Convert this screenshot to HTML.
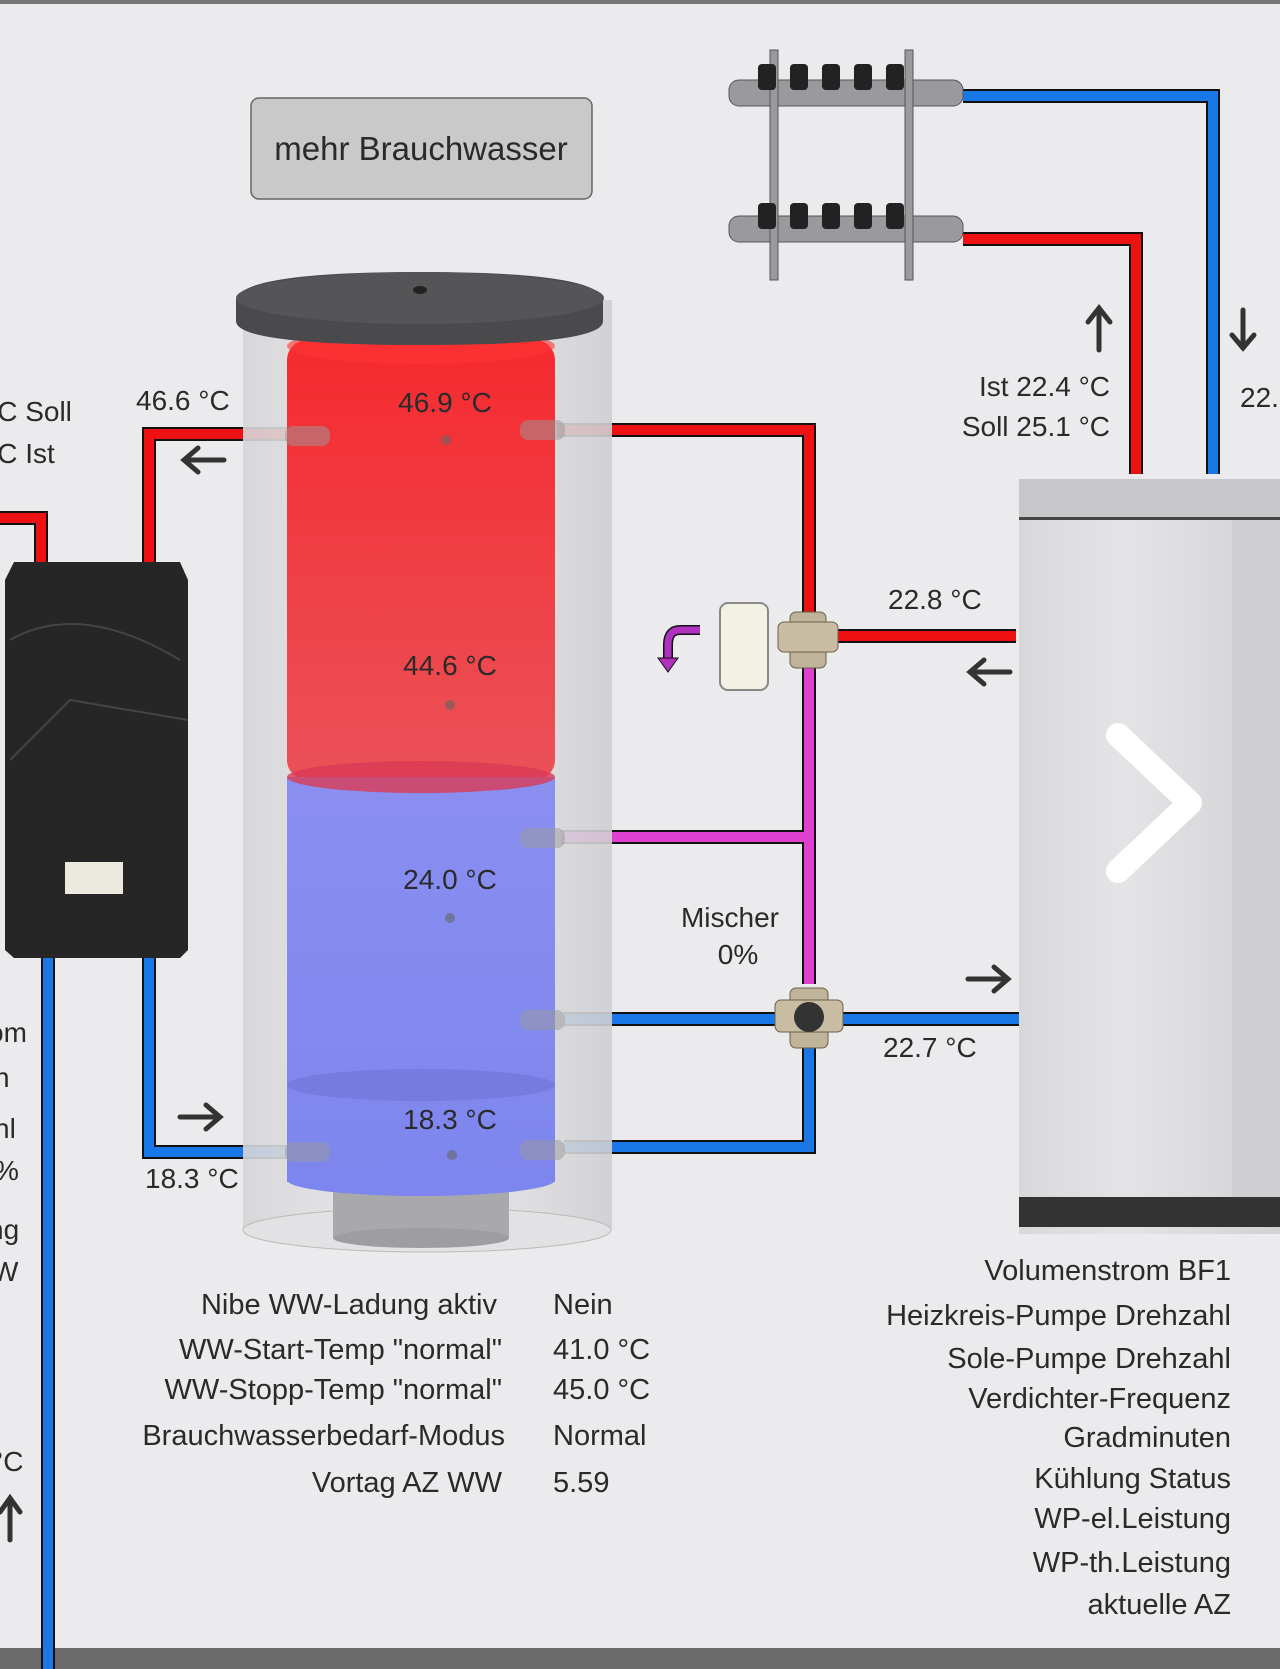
<!DOCTYPE html>
<html><head><meta charset="utf-8"><style>
html,body{margin:0;padding:0;background:#ebebee;}
svg{display:block}
text{font-family:"Liberation Sans",sans-serif;fill:#2a2a2a;}
</style></head><body>
<svg width="1280" height="1669" viewBox="0 0 1280 1669" xmlns="http://www.w3.org/2000/svg">
<defs>
<linearGradient id="glass" x1="0" x2="1"><stop offset="0" stop-color="#d6d6d8"/><stop offset="0.5" stop-color="#ececee"/><stop offset="1" stop-color="#cfcfd2"/></linearGradient>
<linearGradient id="red" x1="0" x2="0" y1="0" y2="1"><stop offset="0" stop-color="#f52a2f"/><stop offset="1" stop-color="#ea5258"/></linearGradient>
<linearGradient id="blue" x1="0" x2="0" y1="0" y2="1"><stop offset="0" stop-color="#8a8ff0"/><stop offset="1" stop-color="#7d86ee"/></linearGradient>
<linearGradient id="hp" x1="0" x2="1"><stop offset="0" stop-color="#d8d8da"/><stop offset="0.4" stop-color="#e4e4e6"/><stop offset="1" stop-color="#d2d2d4"/></linearGradient>
</defs>
<rect width="1280" height="1669" fill="#ebebee"/>
<rect width="1280" height="4" fill="#777"/>
<rect y="1648" width="1280" height="21" fill="#6b6b6b"/>

<rect x="251" y="98" width="341" height="101" rx="8" fill="#c9c9c9" stroke="#666" stroke-width="1.5"/>
<text x="421" y="160" font-size="33" text-anchor="middle">mehr Brauchwasser</text>

<g fill="none" stroke-linejoin="miter">
<path d="M0 518 H41 V562 M149 562 V434 H290" stroke="#111" stroke-width="14"/>
<path d="M0 518 H41 V562 M149 562 V434 H290" stroke="#ee1111" stroke-width="10"/>
<path d="M557 430 H809 V636 H1016 M1136 474 V239 H963" stroke="#111" stroke-width="14"/>
<path d="M557 430 H809 V636 H1016 M1136 474 V239 H963" stroke="#ee1111" stroke-width="10"/>
<path d="M561 837 H809 M809 636 V984" stroke="#111" stroke-width="14"/>
<path d="M561 837 H809 M809 636 V984" stroke="#e040d0" stroke-width="10"/>
<path d="M48 958 V1669 M149 958 V1152 H290 M564 1019 H1019 M809 1016 V1147 H564 M1213 474 V96 H963" stroke="#111" stroke-width="14"/>
<path d="M48 958 V1669 M149 958 V1152 H290 M564 1019 H1019 M809 1016 V1147 H564 M1213 474 V96 H963" stroke="#1a78e6" stroke-width="10"/>
</g>

<rect x="243" y="300" width="369" height="930" fill="url(#glass)" opacity="0.9"/>
<ellipse cx="427" cy="1230" rx="184" ry="22" fill="#e2e2e4" stroke="#bbb"/>
<rect x="333" y="1186" width="176" height="52" fill="#a9a9ab"/>
<ellipse cx="421" cy="1238" rx="88" ry="10" fill="#9e9ea0"/>
<rect x="287" y="340" width="268" height="440" rx="20" fill="url(#red)"/>
<rect x="287" y="777" width="268" height="405" fill="url(#blue)"/>
<ellipse cx="421" cy="1180" rx="134" ry="16" fill="#7d86ee"/>
<ellipse cx="421" cy="777" rx="134" ry="16" fill="#d93a55" opacity="0.8"/>
<ellipse cx="421" cy="1085" rx="134" ry="16" fill="#6f78d8" opacity="0.7"/>
<ellipse cx="421" cy="346" rx="134" ry="18" fill="#f33" opacity="0.6"/>
<path d="M236 300 Q240 272 420 272 Q600 272 603 300 V322 Q600 345 420 345 Q240 345 236 322 Z" fill="#4a4a4c"/>
<ellipse cx="420" cy="298" rx="184" ry="26" fill="#555557"/>
<ellipse cx="420" cy="290" rx="7" ry="4" fill="#222"/>
<g fill="#999" opacity="0.5">
<rect x="285" y="426" width="45" height="20" rx="8"/><rect x="520" y="420" width="45" height="20" rx="8"/>
<rect x="520" y="828" width="45" height="20" rx="8"/><rect x="520" y="1010" width="45" height="20" rx="8"/>
<rect x="520" y="1140" width="45" height="20" rx="8"/><rect x="285" y="1142" width="45" height="20" rx="8"/>
</g>
<g fill="#666" opacity="0.6"><circle cx="446" cy="440" r="5"/><circle cx="450" cy="705" r="5"/><circle cx="450" cy="918" r="5"/><circle cx="452" cy="1155" r="5"/></g>
<g font-size="28" text-anchor="middle">
<text x="445" y="412">46.9 °C</text><text x="450" y="675">44.6 °C</text>
<text x="450" y="889">24.0 °C</text><text x="450" y="1129">18.3 °C</text>
</g>

<path d="M14 562 H180 L188 580 V950 L180 958 H14 L5 950 V580 Z" fill="#262626"/>
<path d="M10 640 Q80 600 180 660 M10 760 L70 700 L188 720" stroke="#444" stroke-width="2" fill="none"/>
<rect x="65" y="862" width="58" height="32" fill="#eceade"/>

<rect x="720" y="603" width="48" height="87" rx="8" fill="#f3f1e4" stroke="#888" stroke-width="2"/>
<rect x="790" y="612" width="36" height="56" rx="6" fill="#bfb39a" stroke="#6b5f49"/>
<rect x="778" y="622" width="60" height="30" rx="6" fill="#c8bca2" stroke="#6b5f49"/>
<path d="M700 630 H680 Q668 630 668 645 V660" stroke="#111" stroke-width="10" fill="none"/>
<path d="M700 630 H680 Q668 630 668 645 V660" stroke="#b030c0" stroke-width="7" fill="none"/>
<path d="M658 658 L668 672 L678 658 Z" fill="#b030c0" stroke="#111"/>
<rect x="790" y="988" width="38" height="60" rx="6" fill="#bfb39a" stroke="#6b5f49"/>
<rect x="775" y="1000" width="68" height="32" rx="6" fill="#c8bca2" stroke="#6b5f49"/>
<circle cx="809" cy="1017" r="15" fill="#333"/>

<g fill="#9a9a9e" stroke="#555">
<rect x="729" y="80" width="234" height="26" rx="10"/>
<rect x="729" y="216" width="234" height="26" rx="10"/>
<rect x="770" y="50" width="8" height="230"/><rect x="905" y="50" width="8" height="230"/>
</g>
<g fill="#222">
<rect x="758" y="64" width="18" height="26" rx="4"/><rect x="790" y="64" width="18" height="26" rx="4"/><rect x="822" y="64" width="18" height="26" rx="4"/><rect x="854" y="64" width="18" height="26" rx="4"/><rect x="886" y="64" width="18" height="26" rx="4"/>
<rect x="758" y="203" width="18" height="26" rx="4"/><rect x="790" y="203" width="18" height="26" rx="4"/><rect x="822" y="203" width="18" height="26" rx="4"/><rect x="854" y="203" width="18" height="26" rx="4"/><rect x="886" y="203" width="18" height="26" rx="4"/>
</g>

<rect x="1019" y="479" width="261" height="755" fill="url(#hp)"/>
<rect x="1019" y="479" width="261" height="40" fill="#c7c7c9"/>
<rect x="1019" y="517" width="261" height="3" fill="#444"/>
<rect x="1232" y="520" width="48" height="680" fill="#cfcfd1"/>
<rect x="1019" y="1197" width="261" height="30" fill="#333"/>
<path d="M1118 735 L1190 803 L1118 871" stroke="#fff" stroke-width="24" fill="none" stroke-linecap="round" stroke-linejoin="round"/>

<g stroke="#333" stroke-width="5" fill="none" stroke-linecap="round">
<path d="M224 460 H184 M198 448 L184 460 L198 472"/>
<path d="M1010 672 H970 M984 660 L970 672 L984 684"/>
<path d="M968 979 H1008 M994 967 L1008 979 L994 991"/>
<path d="M180 1117 H220 M206 1105 L220 1117 L206 1129"/>
<path d="M1099 350 V310 M1088 322 L1099 308 L1110 322"/>
<path d="M1243 310 V345 M1232 335 L1243 348 L1254 335"/>
<path d="M10 1540 V1500 M0 1512 L10 1498 L20 1512"/>
</g>
<g font-size="28">
<text x="1110" y="396" text-anchor="end">Ist 22.4 °C</text>
<text x="1110" y="436" text-anchor="end">Soll 25.1 °C</text>
<text x="1240" y="407">22.</text>
<text x="136" y="410">46.6 °C</text>
<text x="-14" y="421">°C Soll</text>
<text x="-14" y="463">°C Ist</text>
<text x="888" y="609">22.8 °C</text>
<text x="730" y="927" text-anchor="middle">Mischer</text>
<text x="738" y="964" text-anchor="middle">0%</text>
<text x="883" y="1057">22.7 °C</text>
<text x="145" y="1188">18.3 °C</text>
<text x="-12" y="1042">om</text><text x="-6" y="1087">n</text><text x="-6" y="1138">hl</text><text x="-6" y="1180">%</text>
<text x="-12" y="1239">ng</text><text x="-8" y="1281">W</text><text x="-8" y="1471">°C</text>
</g>
<g font-size="29" text-anchor="end">
<text x="497" y="1314">Nibe WW-Ladung aktiv</text>
<text x="502" y="1359">WW-Start-Temp "normal"</text>
<text x="502" y="1399">WW-Stopp-Temp "normal"</text>
<text x="505" y="1445">Brauchwasserbedarf-Modus</text>
<text x="502" y="1492">Vortag AZ WW</text>
</g>
<g font-size="29">
<text x="553" y="1314">Nein</text><text x="553" y="1359">41.0 °C</text><text x="553" y="1399">45.0 °C</text>
<text x="553" y="1445">Normal</text><text x="553" y="1492">5.59</text>
</g>
<g font-size="29" text-anchor="end">
<text x="1231" y="1280">Volumenstrom BF1</text>
<text x="1231" y="1325">Heizkreis-Pumpe Drehzahl</text>
<text x="1231" y="1368">Sole-Pumpe Drehzahl</text>
<text x="1231" y="1408">Verdichter-Frequenz</text>
<text x="1231" y="1447">Gradminuten</text>
<text x="1231" y="1488">Kühlung Status</text>
<text x="1231" y="1528">WP-el.Leistung</text>
<text x="1231" y="1572">WP-th.Leistung</text>
<text x="1231" y="1614">aktuelle AZ</text>
</g>
</svg>
</body></html>
